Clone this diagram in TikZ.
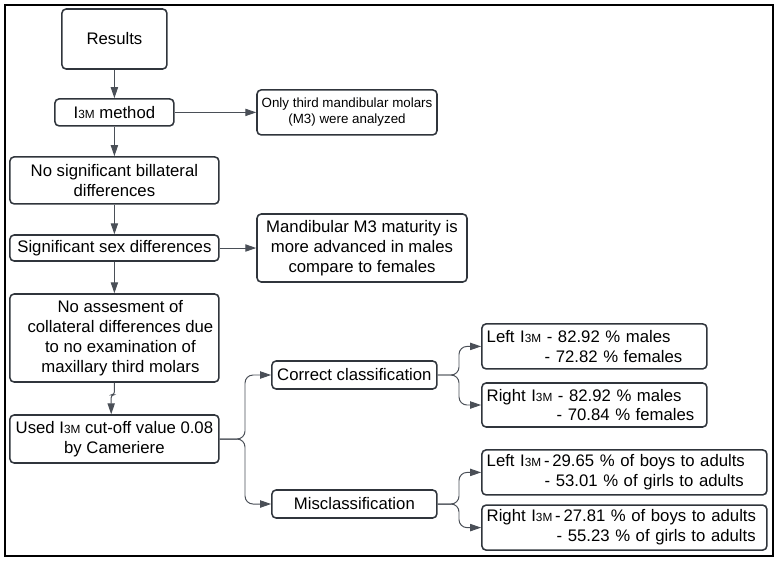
\documentclass[tikz,border=0pt]{standalone}
\usepackage{fontspec}
\setmainfont{Liberation Sans}
\usepackage{tikz}
\usetikzlibrary{positioning, calc, arrows.meta}
\definecolor{boxline}{HTML}{30353C}
\definecolor{arrline}{HTML}{4A4F57}
\tikzset{dbox/.style={draw=boxline, line width=1.1pt, rounded corners=3, inner sep=0.1cm, align=center,
    font=\fontsize{11.9}{14.2}\selectfont}}
\tikzset{rbox/.style={dbox, align=left, inner xsep=0.12cm}}
\tikzset{sbox/.style={dbox, font=\fontsize{9.5}{11.4}\selectfont}}
\tikzset{arr/.style={draw=arrline, line width=0.7pt, -{Triangle[length=7.8pt, width=5.2pt]}}}
\tikzset{fork/.style={arr, rounded corners=0.2cm}}
\newcommand{\Itm}{I{\fontsize{8.4}{10}\selectfont 3M}}

\begin{document}
\begin{tikzpicture}
            \useasboundingbox (0,0) rectangle (19.425,-14.05);
            \draw[black, line width=1.1pt] (0.125,-0.125) rectangle (19.325,-13.9);
            % left column
            \node[dbox, minimum width=2.625cm, minimum height=1.5cm] (results) at (2.86,-0.975) {Results};
            \node[dbox, minimum width=2.975cm, minimum height=0.675cm] (method) at (2.86,-2.81) {\Itm{} method};
            \node[dbox, minimum width=5.225cm, minimum height=1.175cm] (nosig) at (2.86,-4.51)
                {No significant billateral\\differences};
            \node[dbox, minimum width=5.225cm, minimum height=0.65cm] (sexdiff) at (2.86,-6.2)
                {Significant sex differences};
            \node[dbox, minimum width=5.225cm, minimum height=2.2cm] (assess) at (2.86,-8.45)
                {\hspace*{0.3cm}No assesment of\\\hspace*{0.3cm}collateral differences due\\\hspace*{0.3cm}to no examination of\\\hspace*{0.3cm}maxillary third molars};
            \node[dbox, minimum width=5.225cm, minimum height=1.2cm] (used) at (2.86,-10.975)
                {Used \Itm{} cut-off value 0.08\\by Cameriere};
            % side notes
            \node[sbox, minimum width=4.5cm, minimum height=1.125cm] (only) at (8.675,-2.81)
                {Only third mandibular molars\\(M3) were analyzed};
            \node[dbox, minimum width=5.25cm, minimum height=1.7cm] (mand) at (9.05,-6.2)
                {Mandibular M3 maturity is\\more advanced in males\\compare to females};
            % classification
            \node[dbox, minimum width=4.125cm, minimum height=0.7cm] (correct) at (8.86,-9.375) {Correct classification};
            \node[dbox, minimum width=4.125cm, minimum height=0.7cm] (miscl) at (8.86,-12.6) {Misclassification};
            \node[rbox, text width=5.385cm, minimum height=1.125cm] (leftc) at (14.86,-8.66)
                {Left \Itm{} - 82.92 \% males\\\hspace*{1.45cm}- 72.82 \% females};
            \node[rbox, text width=5.385cm, minimum height=1.1cm] (rightc) at (14.86,-10.125)
                {Right \Itm{} - 82.92 \% males\\\hspace*{1.75cm}- 70.84 \% females};
            \node[rbox, text width=6.885cm, minimum height=1.125cm] (leftm) at (15.61,-11.81)
                {Left \Itm{}\,-\,29.65 \% of boys to adults\\\hspace*{1.45cm}- 53.01 \% of girls to adults};
            \node[rbox, text width=6.885cm, minimum height=1.125cm] (rightm) at (15.61,-13.19)
                {Right \Itm{}\,-\,27.81 \% of boys to adults\\\hspace*{1.75cm}- 55.23 \% of girls to adults};
            %
            \coordinate (usedfork) at (6.125,-10.975);
            \coordinate (correctfork) at (11.475,-9.375);
            \coordinate (misclfork) at (11.475,-12.6);
            %
            \draw[arr] (results) -- (method);
            \draw[arr] (method) -- (only);
            \draw[arr] (method) -- (nosig);
            \draw[arr] (nosig) -- (sexdiff);
            \draw[arr] (sexdiff) -- (mand);
            \draw[arr] (sexdiff) -- (assess);
            \draw[arr, rounded corners=2] (assess.south) -- ++(0,-0.3) -| ([xshift=-0.08cm]used.north);
            \draw[fork] (used.east) -- (usedfork) |- (correct.west);
            \draw[fork] (used.east) -- (usedfork) |- (miscl.west);
            \draw[fork] (correct.east) -- (correctfork) |- (leftc.west);
            \draw[fork] (correct.east) -- (correctfork) |- (rightc.west);
            \draw[fork] (miscl.east) -- (misclfork) |- (leftm.west);
            \draw[fork] (miscl.east) -- (misclfork) |- (rightm.west);
		\end{tikzpicture}
\end{document}
